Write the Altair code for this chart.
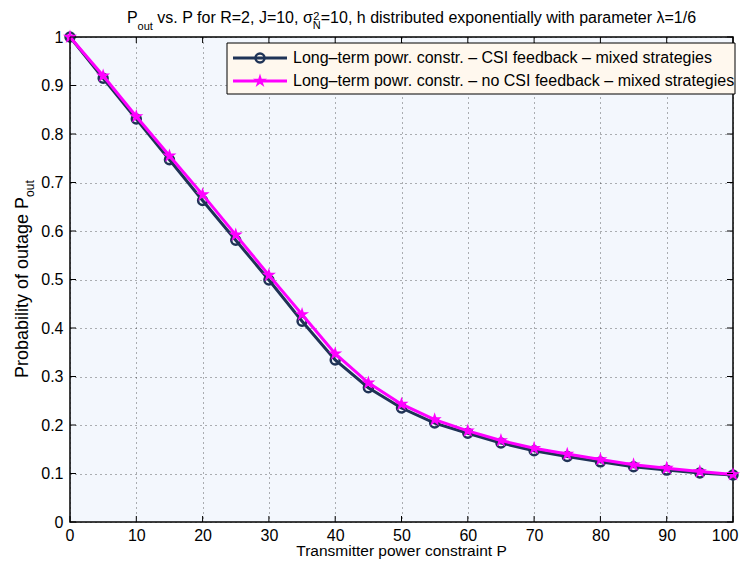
import altair as alt
import pandas as pd

# ---------------- data ----------------
power = [0, 5, 10, 15, 20, 25, 30, 35, 40, 45, 50, 55, 60, 65, 70, 75, 80, 85, 90, 95, 100]
p_csi = [1.000, 0.915, 0.831, 0.747, 0.663, 0.581, 0.499, 0.414, 0.334, 0.277, 0.235,
         0.204, 0.183, 0.163, 0.147, 0.135, 0.124, 0.114, 0.107, 0.101, 0.097]
p_nocsi = [1.000, 0.920, 0.836, 0.755, 0.675, 0.592, 0.509, 0.428, 0.347, 0.287, 0.243,
           0.211, 0.188, 0.168, 0.152, 0.140, 0.129, 0.118, 0.111, 0.104, 0.098]
x_ticks = [0, 10, 20, 30, 40, 50, 60, 70, 80, 90, 100]
y_ticks = [0.0, 0.1, 0.2, 0.3, 0.4, 0.5, 0.6, 0.7, 0.8, 0.9, 1.0]
legend_labels = ["Long\u2013term powr. constr. \u2013 CSI feedback \u2013 mixed strategies",
                 "Long\u2013term powr. constr. \u2013 no CSI feedback \u2013 mixed strategies"]

W, H = 663, 485
FONT = "Liberation Sans"
NAVY = "#1F3356"
MAGENTA = "#FF00FF"
STAR = "M0,-1L0.2245,-0.309L0.951,-0.309L0.363,0.118L0.588,0.809L0,0.382L-0.588,0.809L-0.363,0.118L-0.951,-0.309L-0.2245,-0.309Z"

# Arial / Liberation Sans advance widths (1/1000 em) for text layout
AW = {' ': 278, '.': 278, ',': 278, '=': 584, '/': 278, 'P': 667, 'R': 722, 'J': 500, 'N': 722,
      'a': 556, 'b': 556, 'c': 500, 'd': 556, 'e': 556, 'f': 278, 'g': 556, 'h': 556, 'i': 222,
      'k': 500, 'l': 222, 'm': 833, 'n': 556, 'o': 556, 'p': 556, 'r': 333, 's': 500, 't': 278,
      'u': 556, 'v': 500, 'w': 722, 'x': 500, 'y': 500, '\u03c3': 600, '\u03bb': 500}


def tw(s, size):
    return sum(AW.get(c, 556) for c in s) * size / 1000.0


df = pd.DataFrame({"P": power, "csi": p_csi, "nocsi": p_nocsi})
one = pd.DataFrame({"k": [0]})

xs = alt.Scale(domain=[0, 100], nice=False, zero=False)
ys = alt.Scale(domain=[0, 1], nice=False, zero=False)
xax = alt.Axis(values=x_ticks, title="", grid=True, ticks=False, domain=False,
               labelFont=FONT, labelFontSize=16, labelColor="black", labelPadding=5,
               gridColor="black", gridDash=[1, 4], gridOpacity=0.6, gridWidth=1,
               labelFlush=True, labelFlushOffset=5)
yax = alt.Axis(values=y_ticks, title="", grid=True, ticks=False, domain=False, format=".1~f",
               labelFont=FONT, labelFontSize=16, labelColor="black", labelPadding=7,
               gridColor="black", gridDash=[1, 4], gridOpacity=0.6, gridWidth=1, labelFlush=False)


def X(f):
    return alt.X(f, scale=xs, axis=xax)


def Y(f):
    return alt.Y(f, scale=ys, axis=yax)


line_csi = alt.Chart(df).mark_line(color=NAVY, strokeWidth=3).encode(x=X("P:Q"), y=Y("csi:Q"))
pts_csi = alt.Chart(df).mark_point(shape="circle", filled=False, size=80, strokeWidth=2.5,
                                   color=NAVY, opacity=1).encode(x=X("P:Q"), y=Y("csi:Q"))
line_nocsi = alt.Chart(df).mark_line(color=MAGENTA, strokeWidth=3).encode(x=X("P:Q"), y=Y("nocsi:Q"))
pts_nocsi = alt.Chart(df).mark_point(shape=STAR, filled=True, size=220, color=MAGENTA,
                                     opacity=1).encode(x=X("P:Q"), y=Y("nocsi:Q"))

# inward tick marks on all four sides
xt = pd.DataFrame({"v": x_ticks})
yt = pd.DataFrame({"v": y_ticks})
tk = dict(color="black", strokeWidth=1)
t_bottom = alt.Chart(xt).mark_rule(**tk).encode(x=X("v:Q"), y=alt.value(H), y2=alt.value(H - 6))
t_top = alt.Chart(xt).mark_rule(**tk).encode(x=X("v:Q"), y=alt.value(0), y2=alt.value(6))
t_left = alt.Chart(yt).mark_rule(**tk).encode(y=Y("v:Q"), x=alt.value(0), x2=alt.value(6))
t_right = alt.Chart(yt).mark_rule(**tk).encode(y=Y("v:Q"), x=alt.value(W), x2=alt.value(W - 6))


def label(text, x, y, size=16, angle=0, align="left", baseline="alphabetic"):
    return alt.Chart(one).mark_text(text=text, font=FONT, fontSize=size, align=align,
                                    baseline=baseline, angle=angle, color="black").encode(
        x=alt.value(x), y=alt.value(y))


# ---- title with sub/superscripts ----
t1, t2, t3, t4 = "P", "out", "vs. P for R=2, J=10, \u03c3", "=10, h distributed exponentially with parameter \u03bb=1/6"
SP = tw(" ", 16)
total = tw(t1, 16) + tw(t2, 11) + SP + tw(t3, 16) + tw("N", 11) + tw(t4, 16)
x0 = W / 2 - total / 2 + 10
xa = x0 + tw(t1, 16)
xb = xa + tw(t2, 11) + SP
xc = xb + tw(t3, 16)
xd = xc + tw("N", 11)
title_layers = [
    label(t1, x0, -14),
    label(t2, xa, -7, size=11),
    label(t3, xb, -14),
    label("2", xc + 0.5, -17.5, size=11),
    label("N", xc, -8.5, size=11),
    label(t4, xd, -14),
]

# ---- axis titles ----
yt_main = "Probability of outage P"
y0 = 341
ylab = [
    label(yt_main, -42, y0, size=18, angle=270),
    label("out", -36, y0 - tw(yt_main, 18), size=12, angle=270),
]
xlab = label("Transmitter power constraint P", W / 2, 519, size=15.5, align="center")

# ---- legend ----
LX0, LX1, LY0, LY1 = 157, 665, 6, 57
rows = [21, 44]
leg_box = alt.Chart(one).mark_rect(fill="#FFF8EE", stroke="black", strokeWidth=1).encode(
    x=alt.value(LX0), x2=alt.value(LX1), y=alt.value(LY0), y2=alt.value(LY1))
leg = [leg_box]
leg.append(alt.Chart(one).mark_rule(color=NAVY, strokeWidth=3).encode(
    x=alt.value(163), x2=alt.value(217), y=alt.value(rows[0])))
leg.append(alt.Chart(one).mark_point(shape="circle", filled=False, size=80, strokeWidth=2.5,
                                     color=NAVY, opacity=1).encode(x=alt.value(190), y=alt.value(rows[0])))
leg.append(alt.Chart(one).mark_rule(color=MAGENTA, strokeWidth=3).encode(
    x=alt.value(163), x2=alt.value(217), y=alt.value(rows[1])))
leg.append(alt.Chart(one).mark_point(shape=STAR, filled=True, size=220, color=MAGENTA,
                                     opacity=1).encode(x=alt.value(190), y=alt.value(rows[1])))
leg.append(label(legend_labels[0], 223, rows[0], baseline="middle"))
leg.append(label(legend_labels[1], 223, rows[1], baseline="middle"))

chart = alt.layer(
    line_csi, pts_csi, line_nocsi, pts_nocsi,
    t_bottom, t_top, t_left, t_right,
    *leg, *title_layers, *ylab, xlab
).properties(
    width=W, height=H,
    autosize=alt.AutoSizeParams(type="none"),
    padding={"left": 62, "top": 29, "right": 7, "bottom": 37},
).configure_view(
    stroke="black", strokeWidth=1.5, fill="#F3F7FD"
)

chart.save("out.html", embed_options={"renderer": "svg", "actions": False})
